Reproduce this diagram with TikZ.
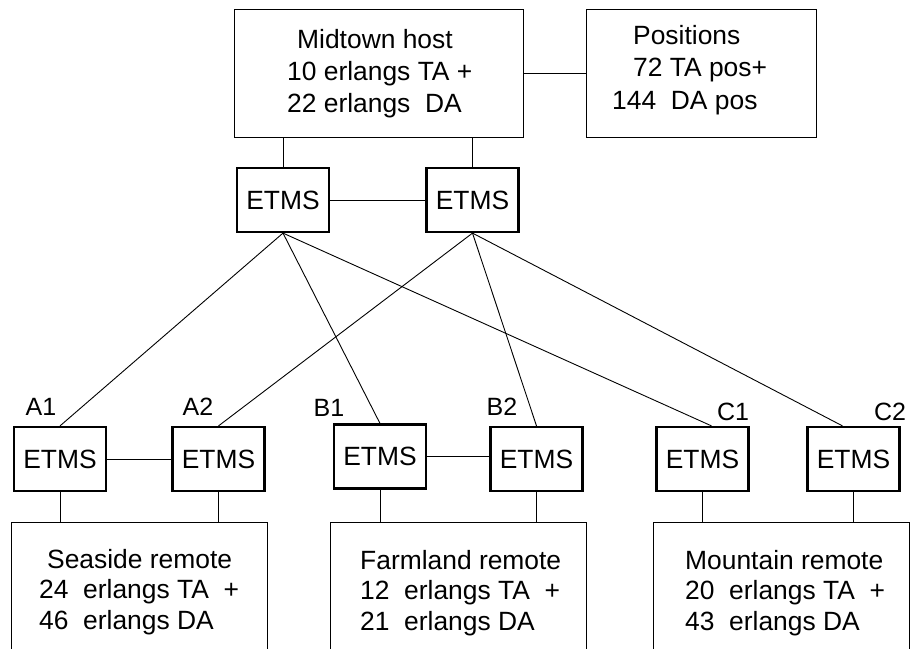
\documentclass[tikz,border=0pt]{standalone}
\usepackage{fontspec}
\setmainfont{Liberation Sans}
\begin{document}
\begin{tikzpicture}[x=1pt,y=-1pt,
    caja/.style={draw, line width=1pt, inner sep=0pt},
    etms/.style={draw, line width=2.2pt, minimum width=92pt, minimum height=64pt, inner sep=0pt, font=\fontsize{26.4}{32}\selectfont},
    texto/.style={anchor=north west, align=left, inner sep=0pt},
    etiqueta/.style={inner sep=0pt, font=\fontsize{25}{30}\selectfont},
    linea/.style={line width=0.9pt}]
    \clip (0,0) rectangle (913,648);

    % Cajas de centrales
    \node[caja, minimum width=289pt, minimum height=128pt] (host) at (378.5,73) {};
    \node[caja, minimum width=230pt, minimum height=128pt] (pos) at (701,73) {};
    \node[caja, minimum width=256pt, minimum height=150pt] (sea) at (139,597) {};
    \node[caja, minimum width=256pt, minimum height=150pt] (farm) at (458,597) {};
    \node[caja, minimum width=256pt, minimum height=150pt] (mount) at (781,597) {};

    % Textos de las cajas
    \node[texto, font=\fontsize{26.4}{32}\selectfont] (hosttxt) at (287,29) {\hspace*{10pt}Midtown host\\10 erlangs TA +\\22 erlangs\ \ DA};
    \node[texto, font=\fontsize{26.4}{32.5}\selectfont] (postxt) at (612,25) {\hspace*{21pt}Positions\\\hspace*{21pt}72 TA pos+\\144\ \ DA pos};
    \node[texto, font=\fontsize{26.4}{30.5}\selectfont] (seatxt) at (39,549) {\hspace*{8pt}Seaside remote\\24\ \ erlangs TA\ \ +\\46\ \ erlangs DA};
    \node[texto, font=\fontsize{26.4}{30.5}\selectfont] (farmtxt) at (360,550) {Farmland remote\\12\ \ erlangs TA\ \ +\\21\ \ erlangs DA};
    \node[texto, font=\fontsize{26.4}{30.5}\selectfont] (mounttxt) at (685,550) {Mountain remote\\20\ \ erlangs TA\ \ +\\43\ \ erlangs DA};

    % Nodos ETMS
    \node[etms] (e1) at (283,200) {ETMS};
    \node[etms] (e2) at (472.5,200) {ETMS};
    \node[etms] (a1) at (60,459) {ETMS};
    \node[etms] (a2) at (218.5,459) {ETMS};
    \node[etms] (b1) at (380,456.5) {ETMS};
    \node[etms] (b2) at (536.5,459) {ETMS};
    \node[etms] (c1) at (702.5,459) {ETMS};
    \node[etms] (c2) at (853.5,459) {ETMS};

    % Etiquetas
    \node[etiqueta] (la1) at (41,407) {A1};
    \node[etiqueta] (la2) at (198,407) {A2};
    \node[etiqueta] (lb1) at (329,408) {B1};
    \node[etiqueta] (lb2) at (502,407) {B2};
    \node[etiqueta] (lc1) at (733,412) {C1};
    \node[etiqueta] (lc2) at (890,412) {C2};

    % Enlaces arriba
    \draw[linea] (host.east) -- (pos.west);
    \draw[linea] (e1.north) -- (e1.north |- host.south);
    \draw[linea] (e2.north) -- (e2.north |- host.south);
    \draw[linea] (e1.east) -- (e2.west);

    % Enlaces cruzados
    \draw[linea] (e1.south) -- (a1.north);
    \draw[linea] (e1.south) -- (b1.north);
    \draw[linea] (e1.south) -- ([xshift=9pt]c1.north);
    \draw[linea] (e2.south) -- (a2.north);
    \draw[linea] (e2.south) -- (b2.north);
    \draw[linea] (e2.south) -- ([xshift=-11pt]c2.north);

    % Enlaces abajo
    \draw[linea] (a1.east) -- (a2.west);
    \draw[linea] (b1.east) -- (b1.east -| b2.west);
    \draw[linea] (a1.south) -- (a1.south |- sea.north);
    \draw[linea] (a2.south) -- (a2.south |- sea.north);
    \draw[linea] (b1.south) -- (b1.south |- farm.north);
    \draw[linea] (b2.south) -- (b2.south |- farm.north);
    \draw[linea] (c1.south) -- (c1.south |- mount.north);
    \draw[linea] (c2.south) -- (c2.south |- mount.north);
\end{tikzpicture}
\end{document}
